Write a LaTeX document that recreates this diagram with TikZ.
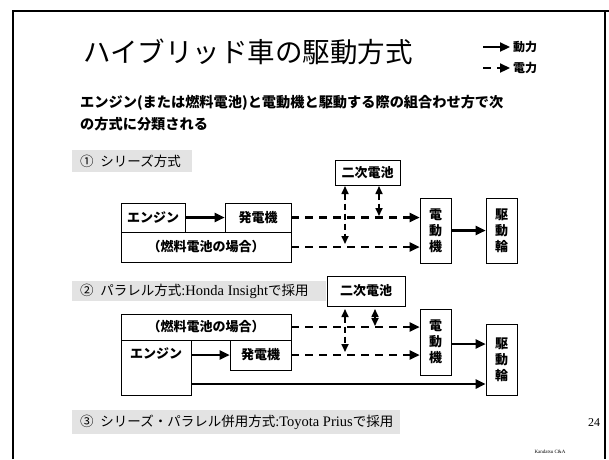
\documentclass[tikz,border=0pt]{standalone}
\usepackage{fontspec}
\setmainfont{Liberation Serif}
\newfontfamily\jp{Noto Sans CJK JP}
\usetikzlibrary{arrows.meta}
\begin{document}
\begin{tikzpicture}[x=1pt,y=-1pt,
  box/.style={draw, line width=0.6pt, inner sep=0pt, align=center, font=\jp\fontsize{13}{16}\selectfont\bfseries},
  pwr/.style={line width=2.2pt, -{Triangle[length=10pt,width=9pt]}},
  elec/.style={line width=2.2pt, dash pattern=on 8pt off 6pt, -{Triangle[length=10pt,width=9pt]}},
  vel/.style={line width=1.6pt, dash pattern=on 6pt off 4pt, {Triangle[length=8pt,width=7pt]}-{Triangle[length=8pt,width=7pt]}},
  band/.style={fill=gray!22, draw=none},
  lbl/.style={anchor=west, inner sep=0pt, font=\jp\fontsize{13.5}{15}\selectfont},
  txt/.style={inner sep=0pt, font=\jp\fontsize{13}{16}\selectfont\bfseries}]
\useasboundingbox (0,0) rectangle (609,459);
% slide frame
\draw[line width=1.4pt] (13,459) -- (13,11) -- (609,11);
\draw[line width=1.4pt] (605,11) -- (605,459);
% title
\node[anchor=west, inner sep=0pt, font=\jp\fontsize{27.5}{30}\selectfont] (title) at (83,52) {ハイブリッド車の駆動方式};
% legend
\coordinate (l1s) at (483,47); \coordinate (l1e) at (510,47);
\coordinate (l2s) at (483,68); \coordinate (l2e) at (510,68);
\draw[pwr] (l1s) -- (l1e);
\draw[elec] (l2s) -- (l2e);
\node[anchor=west, inner sep=0pt, font=\jp\fontsize{12}{13}\selectfont\bfseries] (lg1) at (513,47) {動力};
\node[anchor=west, inner sep=0pt, font=\jp\fontsize{12}{13}\selectfont\bfseries] (lg2) at (513,68) {電力};
% subtitle
\node[anchor=west, inner sep=0pt, font=\jp\fontsize{14.2}{16}\selectfont\bfseries] (sub1) at (80,103) {エンジン(または燃料電池)と電動機と駆動する際の組合わせ方で次};
\node[anchor=west, inner sep=0pt, font=\jp\fontsize{14.2}{16}\selectfont\bfseries] (sub2) at (80,124) {の方式に分類される};
% section bands
\fill[band] (72,150) rectangle (192,172);
\node[lbl] (s1) at (80,161) {①\hspace{0.5em}シリーズ方式};
\fill[band] (72,281) rectangle (326,301);
\node[lbl] (s2) at (80,291) {②\hspace{0.5em}パラレル方式{\rmfamily\fontsize{14.5}{15}\selectfont :Honda Insight}で採用};
\fill[band] (72,410) rectangle (400,434);
\node[lbl] (s3) at (80,422) {③\hspace{0.5em}シリーズ・パラレル併用方式{\rmfamily\fontsize{14.5}{15}\selectfont :Toyota Prius}で採用};
% ---------- series ----------
\node[box, minimum width=65, minimum height=25] (bat1) at (367.5,172.5) {二次電池};
\node[box, minimum width=64, minimum height=29] (eng1) at (153,217.5) {エンジン};
\node[box, minimum width=66, minimum height=29] (gen1) at (258,217.5) {発電機};
\node[box, minimum width=170, minimum height=30] (fc1) at (206,247) {（燃料電池の場合）};
\node[box, minimum width=31, minimum height=65] (mot1) at (435.5,230.5) {電\\動\\機};
\node[box, minimum width=31, minimum height=65] (drv1) at (501.5,230.5) {駆\\動\\輪};
\draw[pwr] (eng1) -- (gen1);
\draw[elec] (gen1.east) -- (gen1.east -| mot1.west);
\draw[elec] (fc1.east) -- (fc1.east -| mot1.west);
\draw[pwr] (mot1) -- (drv1);
\coordinate (v1a) at (345,186); \coordinate (v1b) at (345,244);
\coordinate (v2a) at (379,186); \coordinate (v2b) at (379,216);
\draw[vel] (v1a) -- (v1b);
\draw[vel] (v2a) -- (v2b);
% ---------- parallel ----------
\node[box, minimum width=78, minimum height=30] (bat2) at (366,291) {二次電池};
\node[box, minimum width=170, minimum height=26] (fc2) at (206,327) {（燃料電池の場合）};
\node[box, minimum width=70, minimum height=55] (eng2) at (156,367.5) {};
\node[txt] (eng2t) at (156,354) {エンジン};
\node[box, minimum width=61, minimum height=30] (gen2) at (260.5,355) {発電機};
\node[box, minimum width=31, minimum height=66] (mot2) at (435.5,342) {電\\動\\機};
\node[box, minimum width=31, minimum height=71] (drv2) at (501.5,359.5) {駆\\動\\輪};
\draw[pwr] (eng2.east |- gen2.west) -- (gen2.west);
\draw[elec] (fc2.east) -- (fc2.east -| mot2.west);
\draw[elec] (gen2.east) -- (gen2.east -| mot2.west);
\draw[pwr] (mot2.east |- 0,344) -- (drv2.west |- 0,344);
\coordinate (p0) at (0,384);
\draw[pwr, line width=2.4pt] (eng2.east |- p0) -- (drv2.west |- p0);
\coordinate (w1a) at (345,309); \coordinate (w1b) at (345,352);
\coordinate (w2a) at (375,309); \coordinate (w2b) at (375,326);
\draw[vel] (w1a) -- (w1b);
\draw[vel] (w2a) -- (w2b);
% footer
\node[inner sep=0pt, font=\rmfamily\fontsize{12}{14}\selectfont] (pg) at (594,423) {24};
\node[inner sep=0pt, font=\rmfamily\fontsize{5}{6}\selectfont] (auth) at (550,452) {Kandatsu C\&A};
\end{tikzpicture}
\end{document}
